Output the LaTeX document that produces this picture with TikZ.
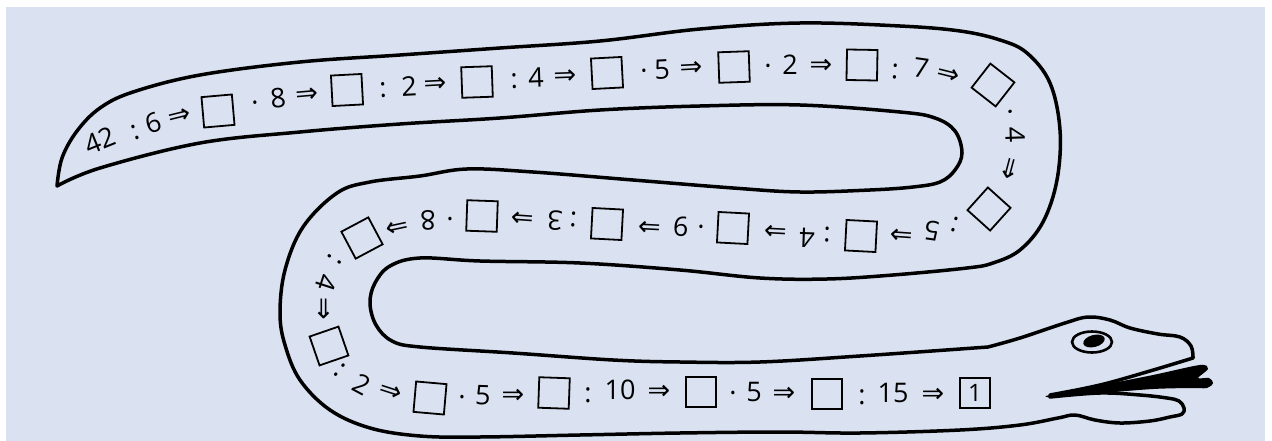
\documentclass[tikz,border=0pt]{standalone}
\usepackage{fontspec}
\setmainfont{Open Sans}
\newfontfamily\arrowfont{DejaVu Sans}
\definecolor{bg}{RGB}{218,226,241}
\newcommand\tokfont{\fontsize{27}{27}\selectfont}
\newcommand\RA{{\arrowfont\fontsize{27}{27}\selectfont ⇒}}
\newcommand\dg[1]{\vphantom{0}#1}
\tikzset{
  body/.style={line width=3.5pt, line join=round},
  tok/.style={inner sep=0pt, font=\tokfont},
  sq/.style={draw, line width=1.8pt, minimum size=30.5pt, inner sep=0pt},
}
\begin{document}
\begin{tikzpicture}[x=1pt,y=-1pt]
\useasboundingbox (0,0) rectangle (1272,441);
\fill[bg] (6,7) rectangle (1265,441);
% snake body
\draw[body] plot[smooth, tension=0.6] coordinates {(57,186) (62,158) (77,131) (100,108) (133,92) (200,75) (300,62) (400,55) (500,48) (600,41) (700,29) (800,23) (900,26) (960,31) (1000,40) (1027,53) (1050,83) (1060,130) (1057,180) (1043,222) (1020,250) (993,263) (967,268) (893,275) (827,279) (760,278) (680,270) (580,263) (480,261) (420,258) (390,266) (375,283) (370,303) (376,325) (392,341) (420,347) (513,353) (613,360) (680,362) (760,362) (860,356) (988,347)}
 -- plot[smooth, tension=0.6] coordinates {(988,347) (1020,338) (1065,323) (1088,317) (1110,320) (1130,328) (1158,334) (1180,337) (1191,346) (1193,358)}
 -- plot[smooth, tension=0.6] coordinates {(1193,358) (1150,371) (1100,385) (1050,395)}
 -- plot[smooth, tension=0.6] coordinates {(1050,397) (1100,393) (1140,395) (1167,398) (1179,401) (1184,408) (1182,414) (1170,417) (1150,421) (1120,423) (1095,420) (1075,415) (1058,418) (1020,425) (960,430) (860,433) (780,432) (680,433) (580,435) (480,437) (420,436) (370,428) (330,410) (300,380) (285,345) (280,313) (285,270) (303,227) (337,193) (370,182) (420,176) (467,169) (533,172) (633,180) (733,188) (800,192) (870,190) (913,187) (940,182) (955,170) (962,153) (955,131) (935,118) (900,112) (800,105) (700,106) (600,110) (500,118) (400,124) (300,132) (200,143) (100,168) (57,186)} -- cycle;
% tongue
\fill[black] plot[smooth cycle, tension=0.5] coordinates {(1046,396) (1087,388) (1153,375) (1200,365) (1208,369) (1198,378) (1209,378) (1213,383) (1207,388) (1190,388) (1153,389) (1103,393) (1060,397)};
% eye
\draw[line width=2.6pt] (1092,342) ellipse [x radius=20pt, y radius=10.5pt];
\fill[rotate around={15:(1094,341)}] (1094,341) ellipse [x radius=11pt, y radius=6pt];
% text tokens
\foreach \x/\y/\r/\t [count=\i] in {
 100/141/22/{\dg{42}}, 135/130/20/{\dg{:}}, 153/123/18/{\dg{6}}, 180/117/14/{\RA},
 255/103/6/{\dg{·}}, 278/98/6/{\dg{8}}, 307/95/5/{\RA},
 383/88/3/{\dg{:}}, 409/86/3/{\dg{2}}, 435/85/3/{\RA},
 514/79/2/{\dg{:}}, 536/78/2/{\dg{4}}, 565/77/2/{\RA},
 644/71/3/{\dg{·}}, 662/69/3/{\dg{5}}, 691/69/3/{\RA},
 768/66/1/{\dg{·}}, 790/65/0/{\dg{2}}, 821/66/0/{\RA},
 895/69/-4/{\dg{:}}, 921/68/-8/{\dg{7}}, 948/75/-14/{\RA},
 1011/112/-60/{\dg{·}}, 1015/135/-88/{\dg{4}}, 1008/168/-105/{\RA},
 954/227/165/{\dg{:}}, 932/231/172/{\dg{5}}, 902/234/176/{\RA},
 827/237/178/{\dg{:}}, 807/238/178/{\dg{4}}, 776/230/177/{\RA},
 701/227/177/{\dg{·}}, 681/227/177/{\dg{9}}, 650/226/177/{\RA},
 573/222/176/{\dg{:}}, 555/221/176/{\dg{3}}, 523/217/176/{\RA},
 450/219/180/{\dg{·}}, 428/220/182/{\dg{8}}, 397/226/192/{\RA},
 337/261/238/{\dg{:}}, 326/283/252/{\dg{4}}, 323/309/270/{\RA},
 341/368/-39/{\dg{:}}, 362/385/-28/{\dg{2}}, 390/392/-18/{\RA},
 462/397/-2/{\dg{·}}, 483/395/-2/{\dg{5}}, 513/396/0/{\RA},
 588/393/0/{\dg{:}}, 620/390/0/{\dg{10}}, 659/392/0/{\RA},
 733/393/0/{\dg{·}}, 754/392/0/{\dg{5}}, 784/394/0/{\RA},
 862/395/0/{\dg{:}}, 893/393/0/{\dg{15}}, 933/395/0/{\RA}}
 \node[tok, rotate=\r] (t\i) at (\x,\y) {\t};
% answer boxes
\foreach \x/\y/\r [count=\i] in {
 218/111/5, 347/90/3, 477/82/2, 607/73/3, 734/67/2, 862/65/-1,
 993/85/-38, 989/209/48,
 861/236/-3, 733/228/-3, 607/224/-3, 482/216/-2, 362/238/28,
 329/346/19, 430/398/-5, 554/393/-2, 701/392/0, 827/394/0}
 \node[sq, rotate=\r] (b\i) at (\x,\y) {};
\node[sq, font=\fontsize{24}{24}\selectfont] (bend) at (975,393) {1};
\end{tikzpicture}
\end{document}
